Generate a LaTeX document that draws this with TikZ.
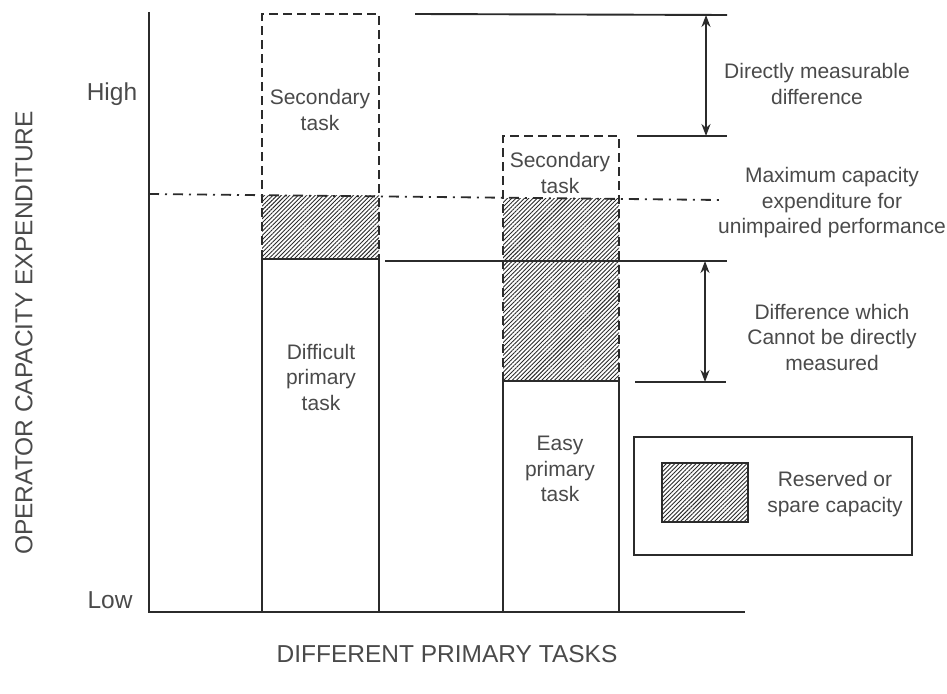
\documentclass[tikz,border=0pt]{standalone}
\usepackage{fontspec}
\setmainfont{Liberation Sans}
\usetikzlibrary{arrows.meta,patterns.meta}
\definecolor{ink}{HTML}{2B2B2B}
\definecolor{txt}{HTML}{4A4A4A}

\tikzset{
  axisline/.style={ink, line width=2.2pt},
  barline/.style={ink, line width=2.2pt},
  dashline/.style={ink, line width=2.2pt, dash pattern=on 9pt off 5pt},
  limitline/.style={ink, line width=1.8pt, dash pattern=on 10pt off 6pt on 2pt off 6pt},
  levelline/.style={ink, line width=1.9pt},
  dimarrow/.style={ink, line width=1.9pt,
    {Stealth[length=12pt,width=9pt]}-{Stealth[length=12pt,width=9pt]}},
  hatch/.style={pattern={Lines[angle=45,distance=3pt,line width=0.9pt]}, pattern color=ink},
  lbl/.style={text=txt, font=\fontsize{21}{25.5}\selectfont, align=center, inner sep=0pt},
  axislbl/.style={text=txt, font=\fontsize{24.5}{28}\selectfont, inner sep=0pt},
}

\begin{document}
\begin{tikzpicture}[x=1pt, y=-1pt]
\useasboundingbox (0,0) rectangle (947,693);

% spare capacity (hatched areas)
\fill[hatch] (262,195) rectangle (379,259);
\fill[hatch] (503,198) rectangle (619,381);

% axes
\draw[axisline] (149,12) -- (149,612) -- (745,612);

% difficult primary task with its secondary task
\draw[dashline] (262,259) -- (262,14) -- (379,14) -- (379,259);
\draw[barline] (262,612) -- (262,259) -- (379,259) -- (379,612);

% easy primary task with its secondary task
\draw[dashline] (503,381) -- (503,136) -- (619,136) -- (619,381);
\draw[barline] (503,612) -- (503,381) -- (619,381) -- (619,612);

% capacity limit for unimpaired performance
\draw[limitline] (149,194) -- (720,200);

% reference levels
\draw[levelline] (415,14) -- (727,15);
\draw[levelline] (637,136) -- (727,136);
\draw[levelline] (385,261) -- (727,261);
\draw[levelline] (635,382) -- (726,382);

% dimension arrows
\coordinate (d1top) at (706,15);
\coordinate (d1bot) at (706,136);
\coordinate (d2top) at (705,261);
\coordinate (d2bot) at (705,382);
\draw[dimarrow] (d1top) -- (d1bot);
\draw[dimarrow] (d2top) -- (d2bot);

% legend
\draw[ink, line width=1.2pt] (634,437) rectangle (912,555);
\fill[hatch] (662,463) rectangle (748,522);
\draw[ink, line width=2.5pt] (662,463) rectangle (748,522);
\node[lbl] (legtxt) at (835,494) {Reserved or\\spare capacity};

% labels in the bars
\node[lbl] (sec1) at (320,110) {Secondary\\task};
\node[lbl] (sec2) at (560,173) {Secondary\\task};
\node[lbl] (diff) at (321,377) {Difficult\\primary\\task};
\node[lbl] (easy) at (560,469) {Easy\\primary\\task};

% side annotations
\node[lbl] (direct) at (817,84) {Directly measurable\\difference};
\node[lbl] (maxcap) at (832,203) {Maximum capacity\\expenditure for\\unimpaired performance};
\node[lbl] (indirect) at (832,337) {Difference which\\Cannot be directly\\measured};

% axis labels
\node[axislbl] (high) at (112,94) {High};
\node[axislbl] (low) at (110,600) {Low};
\node[axislbl, rotate=90] (ylab) at (24,333) {OPERATOR CAPACITY EXPENDITURE};
\node[axislbl] (xlab) at (447,654) {DIFFERENT PRIMARY TASKS};
\end{tikzpicture}
\end{document}
